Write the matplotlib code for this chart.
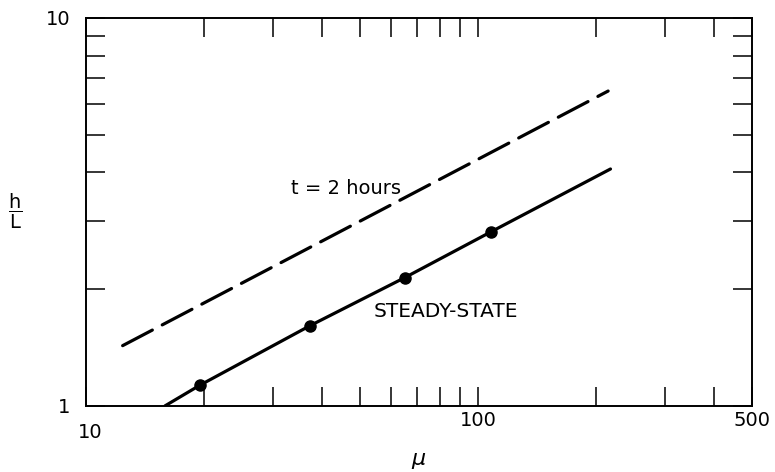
"""Log-log plot of h/L against mu: steady-state and t = 2 hours."""

import matplotlib
matplotlib.use("Agg")
import matplotlib.pyplot as plt
from matplotlib.ticker import FixedLocator, NullFormatter
from matplotlib.transforms import ScaledTranslation

# steady-state curve (solid) and measured points
steady_mu = [15.9, 19.5, 37.3, 65.0, 108.0, 218.0]
steady_h = [1.00, 1.13, 1.61, 2.14, 2.81, 4.08]
points_mu = [19.5, 37.3, 65.0, 108.0]
points_h = [1.13, 1.61, 2.14, 2.81]

# t = 2 hours curve (dashed)
transient_mu = [12.4, 215.0]
transient_h = [1.43, 6.48]

x_major = [10, 100, 500]
x_minor = [20, 30, 40, 50, 60, 70, 80, 90, 200, 300, 400]
y_major = [1, 10]
y_minor = [2, 3, 4, 5, 6, 7, 8, 9]

plt.rcParams['font.family'] = ['DejaVu Sans']
plt.rcParams['mathtext.fontset'] = 'dejavusans'

fig = plt.figure(figsize=(7.75, 4.72), dpi=100)
ax = fig.add_axes([0.111, 0.140, 0.859, 0.822])
ax.set_xscale('log')
ax.set_yscale('log')

ax.plot(steady_mu, steady_h, color='black', linewidth=2.3, solid_capstyle='round')
ax.plot(points_mu, points_h, 'o', color='black', markersize=8)
ax.plot(transient_mu, transient_h, color='black', linewidth=2.3,
        dashes=(10.5, 3.5), dash_capstyle='round')

ax.text(46, 3.63, 't = 2 hours', fontsize=14, ha='center', va='center')
ax.text(83, 1.75, 'STEADY-STATE', fontsize=14.5, ha='center', va='center')

ax.set_xlim(10, 500)
ax.set_ylim(1, 10)

ax.xaxis.set_major_locator(FixedLocator(x_major))
ax.xaxis.set_minor_locator(FixedLocator(x_minor))
ax.yaxis.set_major_locator(FixedLocator(y_major))
ax.yaxis.set_minor_locator(FixedLocator(y_minor))
ax.set_xticklabels([str(v) for v in x_major], fontsize=14)
ax.set_yticklabels([str(v) for v in y_major], fontsize=14)
ax.xaxis.set_minor_formatter(NullFormatter())
ax.yaxis.set_minor_formatter(NullFormatter())

for which in ('major', 'minor'):
    ax.tick_params(which=which, direction='in', length=13.5, width=1.1,
                   top=True, right=True)
ax.tick_params(axis='x', which='major', pad=4)
ax.tick_params(axis='y', which='major', pad=11)

# the "10" under the corner sits a bit lower and to the right
first = ax.get_xticklabels()[0]
first.set_transform(first.get_transform()
                    + ScaledTranslation(0.04, -0.12, fig.dpi_scale_trans))

for spine in ax.spines.values():
    spine.set_linewidth(1.4)

ax.set_xlabel(r'$\mu$', fontsize=16, labelpad=6)
ax.set_ylabel(r'$\dfrac{\mathrm{h}}{\mathrm{L}}$', fontsize=14, rotation=0,
              labelpad=22, va='center')

fig.savefig('out.png', dpi=100)
plt.close(fig)
